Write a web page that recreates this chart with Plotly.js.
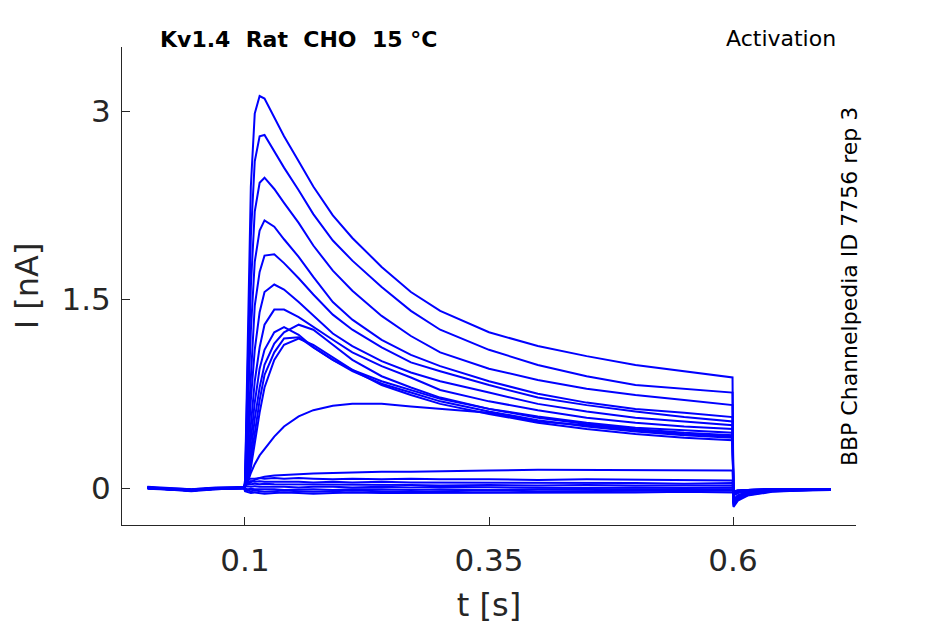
<!DOCTYPE html>
<html>
<head>
  <meta charset="utf-8">
  <script src="https://cdn.plot.ly/plotly-3.0.1.min.js"></script>
  <style>
    html, body { margin: 0; padding: 0; background: #fff; }
    #chart { width: 945px; height: 624px; }
  </style>
</head>
<body>
<div id="chart"></div>
<script>
  // sample times [s], shared by every sweep
  var time = [0, 0.045, 0.07, 0.099, 0.1, 0.103, 0.106, 0.11, 0.115, 0.12, 0.13, 0.14, 0.155, 0.17, 0.19,
    0.21, 0.24, 0.27, 0.3, 0.35, 0.4, 0.45, 0.5, 0.55, 0.5995, 0.6005, 0.605, 0.615, 0.64, 0.7];

  // current [nA], one array per voltage step
  var sweep01 = [0, -0.02, 0, 0.01, 0.03, 1.3, 2.4, 2.98, 3.12, 3.1, 2.95, 2.8, 2.6, 2.4, 2.17,
    1.99, 1.76, 1.56, 1.41, 1.24, 1.13, 1.05, 0.98, 0.93, 0.88, -0.15, -0.1, -0.06, -0.03, -0.01];
  var sweep02 = [0.01, -0.01, 0.005, 0, 0.03, 1.0, 2.0, 2.6, 2.8, 2.81, 2.68, 2.55, 2.37, 2.18, 1.97,
    1.81, 1.6, 1.41, 1.26, 1.1, 0.98, 0.89, 0.82, 0.79, 0.76, -0.14, -0.09, -0.055, -0.025, -0.01];
  var sweep03 = [0, -0.015, -0.005, 0.005, 0.02, 0.8, 1.6, 2.2, 2.43, 2.47, 2.38, 2.27, 2.11, 1.93, 1.73,
    1.57, 1.37, 1.21, 1.08, 0.95, 0.86, 0.79, 0.74, 0.70, 0.66, -0.13, -0.085, -0.05, -0.025, -0.015];
  var sweep04 = [-0.005, -0.02, 0, 0, 0.02, 0.6, 1.25, 1.8, 2.05, 2.13, 2.08, 1.98, 1.84, 1.68, 1.48,
    1.34, 1.18, 1.06, 0.97, 0.85, 0.75, 0.68, 0.63, 0.60, 0.565, -0.12, -0.08, -0.045, -0.02, -0.01];
  var sweep05 = [0, -0.025, -0.01, 0, 0.02, 0.45, 0.95, 1.45, 1.72, 1.85, 1.86, 1.79, 1.67, 1.54, 1.38,
    1.26, 1.12, 1.0, 0.93, 0.82, 0.72, 0.66, 0.61, 0.565, 0.53, -0.12, -0.075, -0.045, -0.02, -0.01];
  var sweep06 = [0.005, -0.015, -0.005, 0.005, 0.02, 0.3, 0.7, 1.1, 1.4, 1.56, 1.62, 1.58, 1.48, 1.37, 1.23,
    1.13, 1.01, 0.92, 0.85, 0.76, 0.67, 0.61, 0.56, 0.53, 0.50, -0.11, -0.07, -0.04, -0.02, -0.01];
  var sweep07 = [0, -0.02, 0, 0, 0.02, 0.2, 0.5, 0.85, 1.12, 1.3, 1.42, 1.42, 1.36, 1.28, 1.18,
    1.08, 0.97, 0.88, 0.78, 0.69, 0.62, 0.56, 0.52, 0.49, 0.47, -0.11, -0.07, -0.04, -0.02, -0.01];
  var sweep08 = [0, -0.02, -0.005, 0, 0.02, 0.15, 0.38, 0.68, 0.95, 1.1, 1.24, 1.28, 1.22, 1.12, 1.02,
    0.94, 0.85, 0.78, 0.71, 0.63, 0.57, 0.52, 0.48, 0.46, 0.44, -0.1, -0.065, -0.035, -0.015, -0.01];
  var sweep09 = [0.005, -0.01, 0, 0.005, 0.02, 0.1, 0.28, 0.55, 0.8, 0.98, 1.15, 1.24, 1.3, 1.26, 1.14,
    1.02, 0.89, 0.8, 0.72, 0.63, 0.56, 0.51, 0.47, 0.44, 0.42, -0.1, -0.065, -0.035, -0.015, -0.01];
  var sweep10 = [0, -0.02, 0, 0, 0.02, 0.08, 0.22, 0.45, 0.7, 0.9, 1.08, 1.19, 1.2, 1.12, 1.02,
    0.93, 0.83, 0.76, 0.69, 0.61, 0.54, 0.49, 0.45, 0.42, 0.40, -0.1, -0.06, -0.035, -0.015, -0.01];
  var sweep11 = [0, -0.015, -0.01, 0, 0.02, 0.05, 0.16, 0.36, 0.6, 0.8, 1.02, 1.14, 1.19, 1.14, 1.04,
    0.94, 0.82, 0.74, 0.67, 0.59, 0.52, 0.47, 0.43, 0.40, 0.38, -0.1, -0.06, -0.035, -0.015, -0.01];
  var sweep12 = [0, -0.02, -0.005, 0, 0.01, 0.05, 0.12, 0.19, 0.26, 0.31, 0.41, 0.49, 0.57, 0.62, 0.655,
    0.67, 0.67, 0.65, 0.63, 0.6, 0.53, 0.5, 0.46, 0.43, 0.41, -0.09, -0.06, -0.03, -0.015, -0.01];
  var sweep13 = [0.005, -0.015, 0, 0.005, 0.02, 0.035, 0.05, 0.065, 0.08, 0.09, 0.1, 0.105, 0.11, 0.115, 0.12,
    0.125, 0.13, 0.13, 0.135, 0.14, 0.145, 0.145, 0.145, 0.14, 0.14, -0.06, -0.04, -0.025, -0.015, -0.01];
  var sweep14 = [0, -0.02, -0.005, 0, 0.06, 0.07, 0.075, 0.075, 0.08, 0.075, 0.08, 0.075, 0.08, 0.075, 0.07,
    0.075, 0.07, 0.075, 0.07, 0.07, 0.065, 0.07, 0.065, 0.06, 0.06, -0.05, -0.035, -0.02, -0.01, -0.01];
  var sweep15 = [0, -0.015, 0, 0.005, 0.04, 0.05, 0.055, 0.05, 0.055, 0.05, 0.05, 0.055, 0.05, 0.045, 0.05,
    0.045, 0.05, 0.045, 0.045, 0.04, 0.045, 0.04, 0.04, 0.035, 0.04, -0.04, -0.03, -0.02, -0.01, -0.01];
  var sweep16 = [0.005, -0.02, -0.005, 0, 0.03, 0.035, 0.03, 0.035, 0.03, 0.035, 0.03, 0.03, 0.025, 0.03, 0.025,
    0.03, 0.025, 0.025, 0.02, 0.025, 0.02, 0.025, 0.02, 0.02, 0.02, -0.035, -0.025, -0.015, -0.01, -0.01];
  var sweep17 = [0, -0.015, 0, 0, 0.01, 0.015, 0.01, 0.015, 0.01, 0.01, 0.015, 0.01, 0.005, 0.01, 0.01,
    0.005, 0.01, 0.005, 0.01, 0.005, 0.005, 0, 0.005, 0, 0.005, -0.03, -0.02, -0.015, -0.01, -0.01];
  var sweep18 = [0, -0.02, -0.005, 0, -0.005, -0.01, -0.005, -0.01, -0.01, -0.005, -0.01, -0.015, -0.01, -0.01, -0.015,
    -0.01, -0.01, -0.015, -0.01, -0.015, -0.01, -0.01, -0.015, -0.01, -0.01, -0.025, -0.02, -0.015, -0.01, -0.01];
  var sweep19 = [0, -0.015, 0, 0, -0.015, -0.02, -0.025, -0.02, -0.025, -0.03, -0.025, -0.02, -0.025, -0.03, -0.025,
    -0.02, -0.025, -0.03, -0.025, -0.02, -0.025, -0.025, -0.02, -0.025, -0.02, -0.03, -0.02, -0.015, -0.01, -0.01];
  var sweep20 = [0.005, -0.02, -0.005, 0, -0.025, -0.035, -0.04, -0.035, -0.04, -0.045, -0.04, -0.035, -0.04, -0.045, -0.04,
    -0.035, -0.04, -0.04, -0.035, -0.04, -0.035, -0.04, -0.035, -0.03, -0.035, -0.035, -0.025, -0.015, -0.01, -0.01];

  var sweeps = [sweep01, sweep02, sweep03, sweep04, sweep05, sweep06, sweep07, sweep08, sweep09, sweep10,
    sweep11, sweep12, sweep13, sweep14, sweep15, sweep16, sweep17, sweep18, sweep19, sweep20];

  var xTicks = [0.1, 0.35, 0.6];
  var xTickText = ["0.1", "0.35", "0.6"];
  var yTicks = [0, 1.5, 3];
  var yTickText = ["0", "1.5", "3"];

  var NB = "\u00a0";
  var titleText = "Kv1.4" + NB + NB + "Rat" + NB + NB + "CHO" + NB + NB + "15" + NB + "°C";

  var data = sweeps.map(function (s) {
    return {
      type: "scatter",
      mode: "lines",
      x: time,
      y: s,
      line: { color: "rgb(0, 0, 255)", width: 2 },
      hoverinfo: "none",
    };
  });

  var axisColor = "#262626";
  var layout = {
    width: 945,
    height: 624,
    showlegend: false,
    plot_bgcolor: "#ffffff",
    paper_bgcolor: "#ffffff",
    font: { family: "DejaVu Sans", color: axisColor },
    margin: { l: 122, r: 89, t: 47, b: 99, pad: 0 },
    xaxis: {
      range: [-0.026, 0.726],
      tickvals: xTicks,
      ticktext: xTickText,
      ticks: "inside",
      ticklen: 8,
      tickwidth: 1,
      tickcolor: axisColor,
      ticklabelstandoff: 8,
      tickfont: { size: 31, color: axisColor },
      showline: true,
      linecolor: axisColor,
      linewidth: 1,
      showgrid: false,
      zeroline: false,
      automargin: false,
      title: { text: "t [s]", font: { size: 32, color: axisColor }, standoff: 16 },
    },
    yaxis: {
      range: [-0.294, 3.51],
      tickvals: yTicks,
      ticktext: yTickText,
      ticks: "inside",
      ticklen: 8,
      tickwidth: 1,
      tickcolor: axisColor,
      ticklabelstandoff: 4,
      tickfont: { size: 31, color: axisColor },
      showline: true,
      linecolor: axisColor,
      linewidth: 1,
      showgrid: false,
      zeroline: false,
      automargin: false,
      title: { text: "I [nA]", font: { size: 32, color: axisColor }, standoff: 13 },
    },
    annotations: [
      {
        text: "<b>" + titleText + "</b>",
        xref: "paper", yref: "paper",
        x: 0.049, y: 1.015,
        xanchor: "left", yanchor: "middle",
        showarrow: false,
        font: { size: 22, color: "#000000" },
      },
      {
        text: "Activation",
        xref: "paper", yref: "paper",
        x: 0.9755, y: 1.017,
        xanchor: "right", yanchor: "middle",
        showarrow: false,
        font: { size: 22, color: "#000000" },
      },
      {
        text: "BBP Channelpedia ID 7756 rep 3",
        xref: "paper", yref: "paper",
        x: 0.992, y: 0.498,
        xanchor: "center", yanchor: "middle",
        textangle: -90,
        showarrow: false,
        font: { size: 22, color: "#000000" },
      },
    ],
  };

  var config = { displayModeBar: false, staticPlot: true };

  Plotly.newPlot("chart", data, layout, config);
</script>
</body>
</html>
